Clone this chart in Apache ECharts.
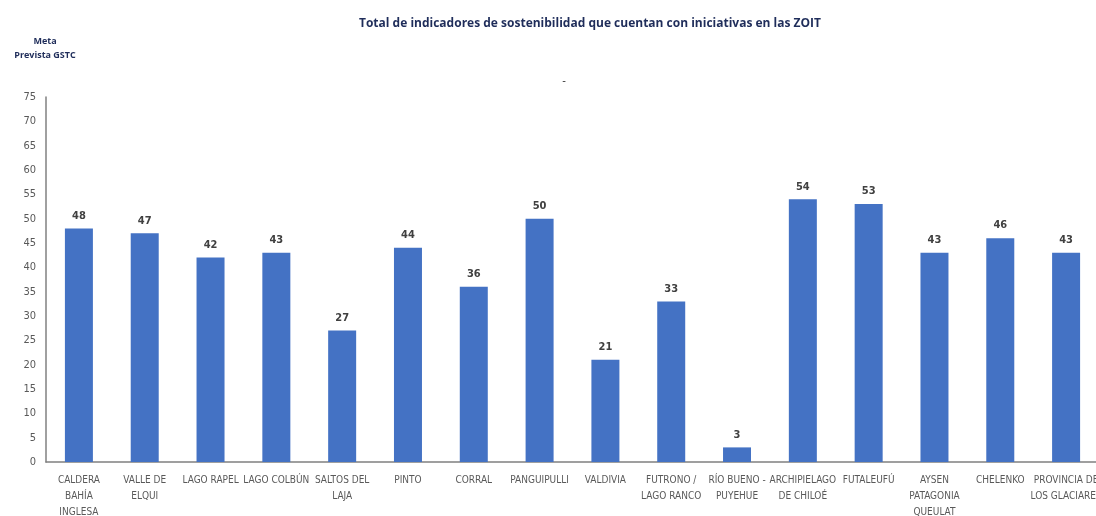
<!DOCTYPE html>
<html><head><meta charset="utf-8">
<script src="https://cdn.jsdelivr.net/npm/echarts@6/dist/echarts.min.js"></script>
<style>html,body{margin:0;padding:0;background:#fff}#c{width:1096px;height:516px}</style>
</head><body><div id="c"></div>
<script>
const categories = ["CALDERA\nBAHÍA\nINGLESA","VALLE DE\nELQUI","LAGO RAPEL","LAGO COLBÚN","SALTOS DEL\nLAJA","PINTO","CORRAL","PANGUIPULLI","VALDIVIA","FUTRONO /\nLAGO RANCO","RÍO BUENO -\nPUYEHUE","ARCHIPIELAGO\nDE CHILOÉ","FUTALEUFÚ","AYSEN\nPATAGONIA\nQUEULAT","CHELENKO","PROVINCIA DE\nLOS GLACIARES"];
const values = [48,47,42,43,27,44,36,50,21,33,3,54,53,43,46,43];
const titleText = "Total de indicadores de sostenibilidad que cuentan con iniciativas en las ZOIT";
const noteText = "Meta\nPrevista GSTC";
const font = "'DejaVu Sans Condensed','Liberation Sans',sans-serif";
const chart = echarts.init(document.getElementById('c'));
chart.setOption({
  animation:false,
  title:[
    {text:titleText,left:585,top:13,textAlign:'center',textStyle:{fontFamily:"'Open Sans',sans-serif",fontSize:12,fontWeight:'bold',color:'#1F2D5A'}},
    {text:noteText,left:40,top:29,textAlign:'center',textStyle:{fontFamily:"'Open Sans',sans-serif",fontSize:9,fontWeight:'bold',color:'#1F2D5A',lineHeight:14,align:'center'}},
    {text:'-',left:559,top:70,textAlign:'center',textStyle:{fontSize:11,color:'#333',fontWeight:'normal'}}
  ],
  grid:{left:46,top:97,bottom:54,width:1053,containLabel:false,outerBoundsMode:'none'},
  xAxis:{type:'category',data:categories,
    axisLine:{lineStyle:{color:'#808080',width:1.5}},axisTick:{show:false},
    axisLabel:{interval:0,color:'#595959',fontFamily:font,fontSize:10,lineHeight:16,margin:10}},
  yAxis:{type:'value',min:0,max:75,interval:5,
    axisLine:{show:true,lineStyle:{color:'#808080',width:1.5}},axisTick:{show:false},splitLine:{show:false},
    axisLabel:{color:'#595959',fontFamily:font,fontSize:11,margin:10}},
  series:[{type:'bar',data:values,barWidth:28,itemStyle:{color:'#4472C4'},
    label:{show:true,position:'top',color:'#404040',fontFamily:font,fontSize:11,fontWeight:'bold',distance:7}}]
});
</script></body></html>
